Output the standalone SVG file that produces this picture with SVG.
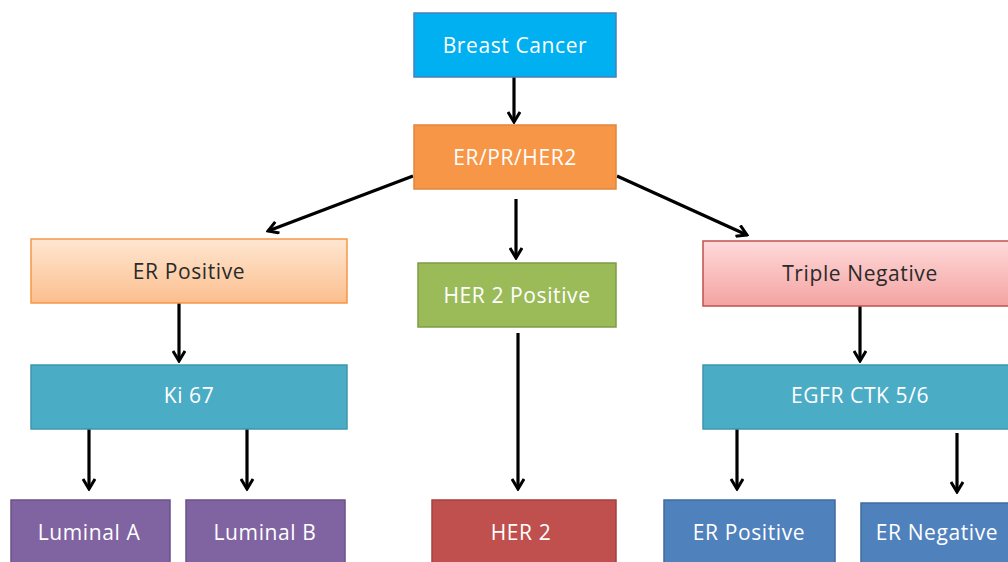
<svg xmlns="http://www.w3.org/2000/svg" width="1008" height="562" viewBox="0 0 1008 562">
<defs>
<linearGradient id="gOrange" x1="0" y1="0" x2="0" y2="1"><stop offset="0" stop-color="#FFE7D2"/><stop offset="1" stop-color="#FBBE8E"/></linearGradient>
<linearGradient id="gPink" x1="0" y1="0" x2="0" y2="1"><stop offset="0" stop-color="#FFDADA"/><stop offset="1" stop-color="#F3A3A1"/></linearGradient>
<marker id="arr" viewBox="0 0 14 14" refX="12" refY="7" markerWidth="14" markerHeight="14" markerUnits="userSpaceOnUse" orient="auto">
<polyline points="2,1 12,7 2,13" fill="none" stroke="#000" stroke-width="3"/>
</marker>
</defs>
<style>
text{font-family:"Open Sans","Liberation Sans",sans-serif;font-size:21px;letter-spacing:0.6px;text-anchor:middle;dominant-baseline:central;fill:#fff}
.dark{fill:#2a2a2a}
rect{stroke-width:1.5}
.c line{stroke:#000;stroke-width:3.2;marker-end:url(#arr)}
</style>
<rect width="1008" height="562" fill="#fff"/>
<g class="c" id="connectors">
<line x1="514" y1="77" x2="514" y2="122"/>
<line x1="413" y1="176" x2="268" y2="231"/>
<line x1="516" y1="199" x2="516" y2="258"/>
<line x1="617" y1="176" x2="747" y2="235"/>
<line x1="179" y1="303" x2="179" y2="361"/>
<line x1="518" y1="333" x2="518" y2="489"/>
<line x1="860" y1="306" x2="860" y2="361"/>
<line x1="89" y1="429" x2="89" y2="489"/>
<line x1="247" y1="429" x2="247" y2="489"/>
<line x1="737" y1="429" x2="737" y2="489"/>
<line x1="957" y1="433" x2="957" y2="492"/>
</g>
<g id="breast-cancer"><rect x="414" y="13" width="202" height="64" fill="#00B0F0" stroke="#4A7EBB"/><text x="515" y="45">Breast Cancer</text></g>
<g id="er-pr-her2"><rect x="414" y="125" width="202" height="64" fill="#F79646" stroke="#E0873D"/><text x="515" y="157">ER/PR/HER2</text></g>
<g id="er-positive-top"><rect x="31" y="239" width="316" height="64" fill="url(#gOrange)" stroke="#F79646"/><text class="dark" x="189" y="271">ER Positive</text></g>
<g id="her2-positive"><rect x="418" y="263" width="198" height="64" fill="#9BBB59" stroke="#7E9C45"/><text x="517" y="295">HER 2 Positive</text></g>
<g id="triple-negative"><rect x="703" y="241" width="310" height="65" fill="url(#gPink)" stroke="#C0504D"/><text class="dark" x="860" y="273">Triple Negative</text></g>
<g id="ki67"><rect x="31" y="365" width="316" height="64" fill="#4BACC6" stroke="#3E97AF"/><text x="189" y="395">Ki 67</text></g>
<g id="egfr"><rect x="703" y="365" width="310" height="64" fill="#4BACC6" stroke="#3E97AF"/><text x="860" y="395">EGFR CTK 5/6</text></g>
<g id="luminal-a"><rect x="11" y="500" width="159" height="70" fill="#8064A2" stroke="#6A5287"/><text x="89" y="532">Luminal A</text></g>
<g id="luminal-b"><rect x="186" y="500" width="159" height="70" fill="#8064A2" stroke="#6A5287"/><text x="265" y="532">Luminal B</text></g>
<g id="her2"><rect x="432" y="500" width="184" height="70" fill="#C0504D" stroke="#A5403D"/><text x="521" y="532">HER 2</text></g>
<g id="er-positive-bottom"><rect x="664" y="500" width="171" height="70" fill="#4F81BD" stroke="#3F6C9F"/><text x="749" y="532">ER Positive</text></g>
<g id="er-negative"><rect x="861" y="503" width="155" height="70" fill="#4F81BD" stroke="#3F6C9F"/><text x="937" y="532">ER Negative</text></g>
</svg>
